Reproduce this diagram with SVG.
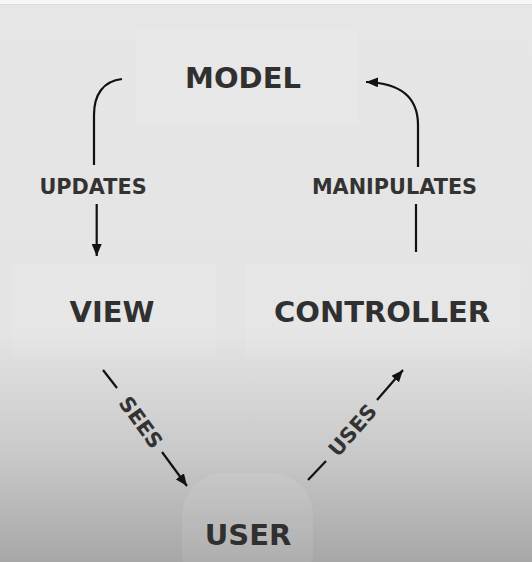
<svg xmlns="http://www.w3.org/2000/svg" width="532" height="562" viewBox="0 0 532 562">
  <defs>
    <linearGradient id="bg" x1="0" y1="0" x2="0" y2="562" gradientUnits="userSpaceOnUse">
      <stop offset="0" stop-color="#e6e6e6"/>
      <stop offset="0.59" stop-color="#e4e4e4"/>
      <stop offset="0.8" stop-color="#cacaca"/>
      <stop offset="1" stop-color="#a7a7a7"/>
    </linearGradient>
    <marker id="arrow" viewBox="0 0 12 10" refX="12" refY="5" markerWidth="12" markerHeight="10" markerUnits="userSpaceOnUse" orient="auto">
      <path d="M0,0 L12,5 L0,10 z" fill="#111"/>
    </marker>
    <style>
      .node { fill: #ffffff; fill-opacity: 0.09; }
      .title { font-family: "DejaVu Sans", "Liberation Sans", sans-serif; font-weight: bold; font-size: 29px; fill: #303030; text-anchor: middle; }
      .label { font-family: "DejaVu Sans", "Liberation Sans", sans-serif; font-weight: bold; font-size: 20.8px; fill: #333333; text-anchor: middle; }
      .conn { fill: none; stroke: #111; stroke-width: 2.2; }
    </style>
  </defs>

  <rect x="0" y="0" width="532" height="562" fill="url(#bg)"/>
  <rect x="0" y="0" width="532" height="4" fill="#f8f6f8"/>
  <rect x="0" y="4" width="532" height="1" fill="#dcdcdc"/>

  <g id="model">
    <rect class="node" x="136" y="30" width="222" height="93"/>
    <text class="title" x="243" y="88">MODEL</text>
  </g>
  <g id="view">
    <rect class="node" x="12" y="265" width="203" height="92"/>
    <text class="title" x="112" y="322">VIEW</text>
  </g>
  <g id="controller">
    <rect class="node" x="246" y="265" width="275" height="92"/>
    <text class="title" x="382" y="322">CONTROLLER</text>
  </g>
  <g id="user">
    <rect class="node" x="182" y="473" width="131" height="120" rx="42" ry="42" fill-opacity="0.04"/>
    <text class="title" x="248" y="545">USER</text>
  </g>

  <g id="connectors">
    <path class="conn" d="M122,79 C103,81 94,95 94,115 V165"/>
    <path class="conn" d="M96.7,204 V256" marker-end="url(#arrow)"/>
    <text class="label" x="93" y="193.5">UPDATES</text>

    <path class="conn" d="M416,252 V204"/>
    <path class="conn" d="M418,167 V125 C418,98 402,83 366,82" marker-end="url(#arrow)"/>
    <text class="label" x="394.5" y="193.5">MANIPULATES</text>

    <path class="conn" d="M103,370 L117,388"/>
    <path class="conn" d="M162,452 L187,486" marker-end="url(#arrow)"/>
    <text class="label" transform="translate(135,426.5) rotate(54)" x="0" y="0">SEES</text>

    <path class="conn" d="M308,480 L326,461"/>
    <path class="conn" d="M377,400 L403,370" marker-end="url(#arrow)"/>
    <text class="label" transform="translate(358,435) rotate(-49)" x="0" y="0">USES</text>
  </g>
</svg>
